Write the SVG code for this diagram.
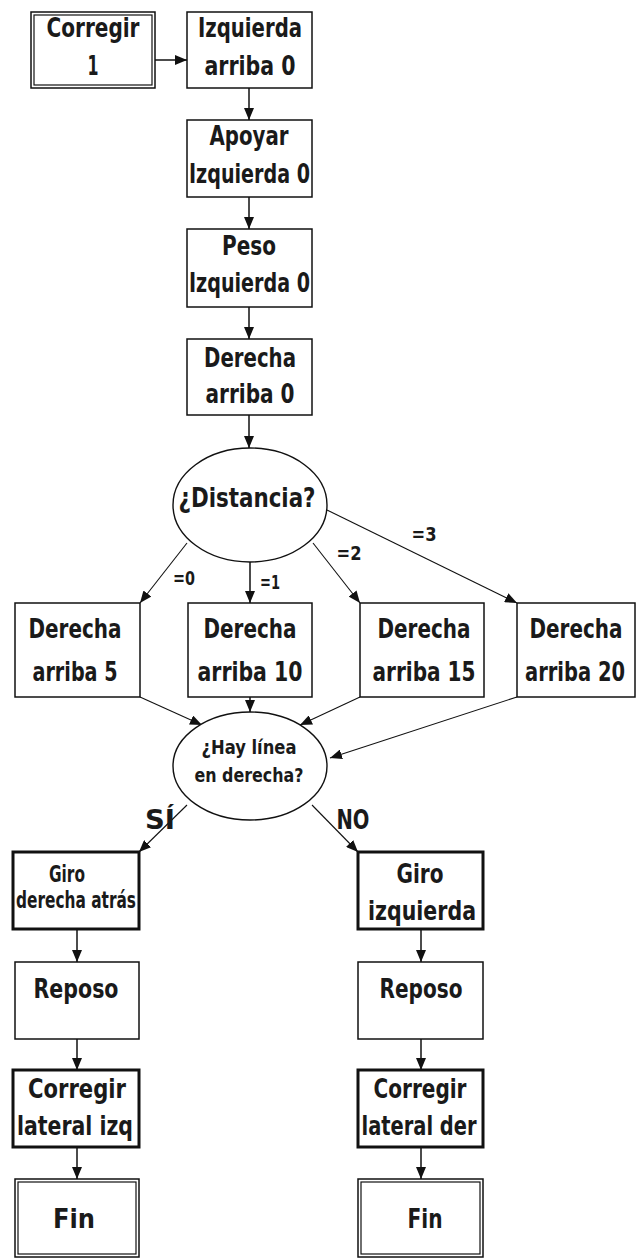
<svg xmlns="http://www.w3.org/2000/svg" width="637" height="1260" viewBox="0 0 637 1260">
<style>
text{font-family:"DejaVu Sans Condensed","Liberation Sans Narrow","Liberation Sans",sans-serif;font-weight:bold;fill:#1a1a1a;text-anchor:middle}
.t{font-size:26px}
.s{font-size:23px}
.m{font-size:19px}
.lbl{font-size:19px}
.box{fill:#fff;stroke:#111;stroke-width:1.5}
.thick{fill:#fff;stroke:#111;stroke-width:3}
.in{fill:none;stroke:#111;stroke-width:1.2}
.ell{fill:#fff;stroke:#111;stroke-width:1.4}
.c{stroke:#111;stroke-width:1.5;fill:none;marker-end:url(#ah)}
.cd{stroke:#111;stroke-width:1.1;fill:none;marker-end:url(#ah)}
</style>
<defs>
<marker id="ah" viewBox="0 0 12 10" refX="12" refY="5" markerWidth="12" markerHeight="10" markerUnits="userSpaceOnUse" orient="auto">
<path d="M0,0 L12,5 L0,10 z" fill="#111"/>
</marker>
</defs>
<rect width="637" height="1260" fill="#fff"/>

<g id="connectors">
<line class="c" x1="155" y1="60" x2="187" y2="60"/>
<line class="c" x1="249" y1="88" x2="249" y2="120"/>
<line class="c" x1="249" y1="197" x2="249" y2="229"/>
<line class="c" x1="249" y1="307" x2="249" y2="339"/>
<line class="c" x1="249" y1="415" x2="249" y2="448"/>
<line class="cd" x1="187" y1="543" x2="140" y2="603"/>
<line class="c" x1="250" y1="562" x2="250" y2="603"/>
<line class="cd" x1="313" y1="543" x2="360" y2="603"/>
<line class="cd" x1="327" y1="510" x2="517" y2="603"/>
<line class="cd" x1="140" y1="697" x2="202" y2="725"/>
<line class="c" x1="250" y1="697" x2="250" y2="712"/>
<line class="cd" x1="360" y1="697" x2="300" y2="725"/>
<line class="cd" x1="517" y1="697" x2="330" y2="758"/>
<line class="cd" x1="187" y1="805" x2="139" y2="852"/>
<line class="cd" x1="312" y1="805" x2="358" y2="852"/>
<line class="c" x1="77" y1="929" x2="77" y2="962"/>
<line class="c" x1="77" y1="1039" x2="77" y2="1070"/>
<line class="c" x1="77" y1="1147" x2="77" y2="1179"/>
<line class="c" x1="421" y1="929" x2="421" y2="962"/>
<line class="c" x1="421" y1="1039" x2="421" y2="1070"/>
<line class="c" x1="421" y1="1147" x2="421" y2="1179"/>
<text class="lbl" x="184" y="585" textLength="22" lengthAdjust="spacingAndGlyphs">=0</text>
<text class="lbl" x="270" y="589" textLength="20" lengthAdjust="spacingAndGlyphs">=1</text>
<text class="lbl" x="349" y="560" textLength="25" lengthAdjust="spacingAndGlyphs">=2</text>
<text class="lbl" x="424" y="541" textLength="25" lengthAdjust="spacingAndGlyphs">=3</text>
<text class="t" x="160" y="829" textLength="30" lengthAdjust="spacingAndGlyphs">SÍ</text>
<text class="t" x="353" y="829" textLength="33" lengthAdjust="spacingAndGlyphs">NO</text>
</g>

<g id="n-corregir1">
<rect class="box" x="31" y="12" width="124" height="76"/>
<rect class="in" x="34" y="15" width="118" height="70"/>
<text class="t" x="93" y="37" textLength="93" lengthAdjust="spacingAndGlyphs">Corregir</text>
<text class="t" x="93" y="75" textLength="11" lengthAdjust="spacingAndGlyphs">1</text>
</g>
<g id="n-izqarriba">
<rect class="box" x="187" y="12" width="125" height="76"/>
<text class="t" x="250" y="37" textLength="104" lengthAdjust="spacingAndGlyphs">Izquierda</text>
<text class="t" x="250" y="75" textLength="91" lengthAdjust="spacingAndGlyphs">arriba 0</text>
</g>
<g id="n-apoyar">
<rect class="box" x="187" y="120" width="125" height="77"/>
<text class="t" x="249" y="145" textLength="79" lengthAdjust="spacingAndGlyphs">Apoyar</text>
<text class="t" x="249.5" y="183" textLength="121" lengthAdjust="spacingAndGlyphs">Izquierda 0</text>
</g>
<g id="n-peso">
<rect class="box" x="187" y="229" width="125" height="78"/>
<text class="t" x="249" y="255" textLength="54" lengthAdjust="spacingAndGlyphs">Peso</text>
<text class="t" x="249.5" y="292" textLength="121" lengthAdjust="spacingAndGlyphs">Izquierda 0</text>
</g>
<g id="n-derarriba0">
<rect class="box" x="187" y="339" width="125" height="76"/>
<text class="t" x="250" y="367" textLength="92" lengthAdjust="spacingAndGlyphs">Derecha</text>
<text class="t" x="250" y="403" textLength="89" lengthAdjust="spacingAndGlyphs">arriba 0</text>
</g>
<g id="n-distancia">
<ellipse class="ell" cx="250" cy="505" rx="77" ry="57"/>
<text class="t" x="247" y="507" textLength="137" lengthAdjust="spacingAndGlyphs">¿Distancia?</text>
</g>
<g id="n-d5">
<rect class="box" x="15" y="603" width="125" height="94"/>
<text class="t" x="75" y="638" textLength="93" lengthAdjust="spacingAndGlyphs">Derecha</text>
<text class="t" x="75" y="681" textLength="85" lengthAdjust="spacingAndGlyphs">arriba 5</text>
</g>
<g id="n-d10">
<rect class="box" x="188" y="603" width="124" height="94"/>
<text class="t" x="250" y="638" textLength="93" lengthAdjust="spacingAndGlyphs">Derecha</text>
<text class="t" x="250" y="681" textLength="105" lengthAdjust="spacingAndGlyphs">arriba 10</text>
</g>
<g id="n-d15">
<rect class="box" x="360" y="603" width="124" height="94"/>
<text class="t" x="424" y="638" textLength="93" lengthAdjust="spacingAndGlyphs">Derecha</text>
<text class="t" x="424" y="681" textLength="103" lengthAdjust="spacingAndGlyphs">arriba 15</text>
</g>
<g id="n-d20">
<rect class="box" x="517" y="603" width="118" height="94"/>
<text class="t" x="576" y="638" textLength="93" lengthAdjust="spacingAndGlyphs">Derecha</text>
<text class="t" x="575" y="681" textLength="100" lengthAdjust="spacingAndGlyphs">arriba 20</text>
</g>
<g id="n-hay">
<ellipse class="ell" cx="250" cy="766" rx="77" ry="54"/>
<text class="m" x="249" y="754" textLength="95" lengthAdjust="spacingAndGlyphs">¿Hay línea</text>
<text class="m" x="249" y="782" textLength="109" lengthAdjust="spacingAndGlyphs">en derecha?</text>
</g>
<g id="n-giroder">
<rect class="thick" x="13" y="852" width="126" height="77"/>
<text class="s" x="67" y="882" textLength="36" lengthAdjust="spacingAndGlyphs">Giro</text>
<text class="s" x="76" y="908" textLength="120" lengthAdjust="spacingAndGlyphs">derecha atrás</text>
</g>
<g id="n-reposo1">
<rect class="box" x="15" y="962" width="124" height="77"/>
<text class="t" x="76" y="998" textLength="85" lengthAdjust="spacingAndGlyphs">Reposo</text>
</g>
<g id="n-corrizq">
<rect class="thick" x="13" y="1070" width="126" height="77"/>
<text class="t" x="77" y="1098" textLength="98" lengthAdjust="spacingAndGlyphs">Corregir</text>
<text class="t" x="75" y="1135" textLength="116" lengthAdjust="spacingAndGlyphs">lateral izq</text>
</g>
<g id="n-fin1">
<rect class="box" x="15" y="1179" width="124" height="78"/>
<rect class="in" x="18" y="1182" width="118" height="72"/>
<text class="t" x="74" y="1228" textLength="42" lengthAdjust="spacingAndGlyphs">Fin</text>
</g>
<g id="n-giroizq">
<rect class="thick" x="358" y="852" width="125" height="77"/>
<text class="t" x="420" y="883" textLength="47" lengthAdjust="spacingAndGlyphs">Giro</text>
<text class="t" x="422" y="920" textLength="108" lengthAdjust="spacingAndGlyphs">izquierda</text>
</g>
<g id="n-reposo2">
<rect class="box" x="358" y="962" width="125" height="77"/>
<text class="t" x="421" y="998" textLength="83" lengthAdjust="spacingAndGlyphs">Reposo</text>
</g>
<g id="n-corrder">
<rect class="thick" x="358" y="1070" width="125" height="77"/>
<text class="t" x="420" y="1098" textLength="93" lengthAdjust="spacingAndGlyphs">Corregir</text>
<text class="t" x="419" y="1135" textLength="115" lengthAdjust="spacingAndGlyphs">lateral der</text>
</g>
<g id="n-fin2">
<rect class="box" x="358" y="1179" width="125" height="78"/>
<rect class="in" x="361" y="1182" width="119" height="72"/>
<text class="t" x="425" y="1228" textLength="35" lengthAdjust="spacingAndGlyphs">Fin</text>
</g>
</svg>
